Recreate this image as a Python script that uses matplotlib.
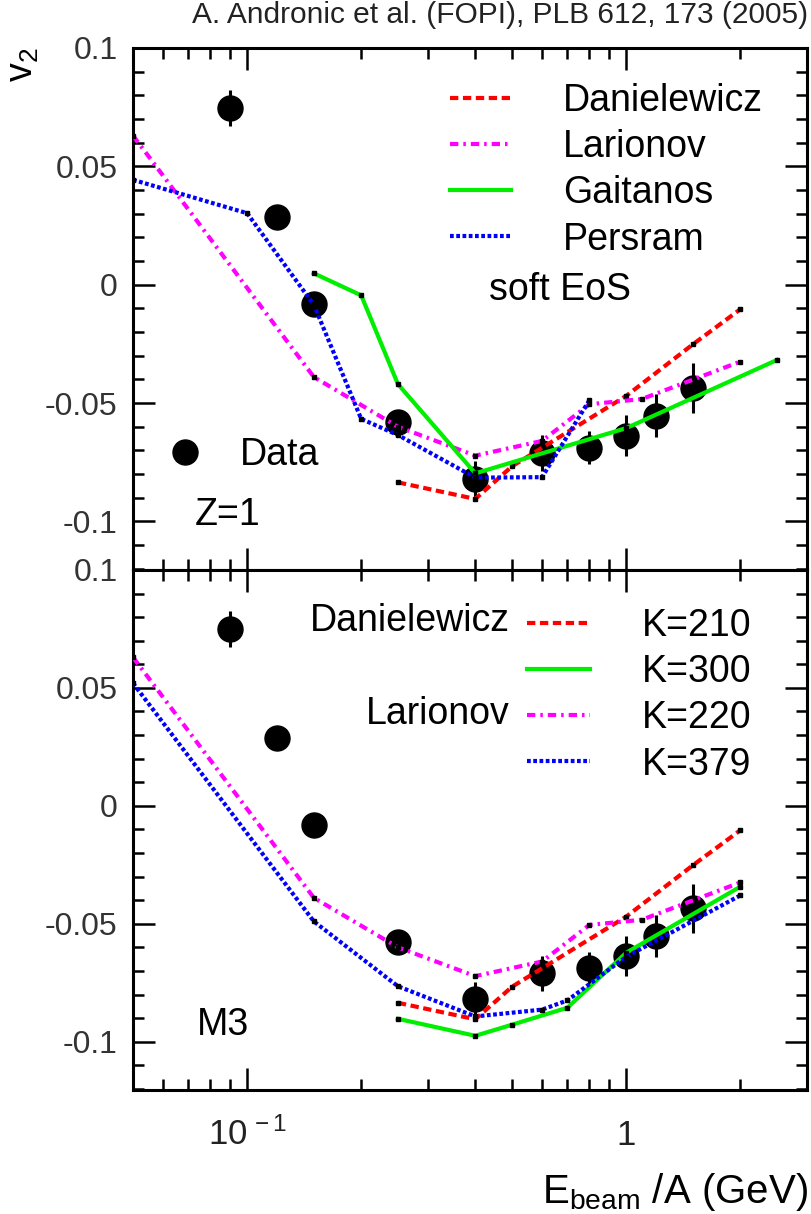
import matplotlib
matplotlib.use('Agg')
import matplotlib.pyplot as plt
from matplotlib.ticker import FixedLocator, MultipleLocator, NullFormatter, FuncFormatter
from matplotlib.lines import Line2D
from matplotlib.transforms import blended_transform_factory

plt.rcParams['font.family'] = ['Liberation Sans', 'DejaVu Sans']
plt.rcParams['mathtext.fontset'] = 'custom'
plt.rcParams['mathtext.rm'] = 'Liberation Sans'
plt.rcParams['mathtext.it'] = 'Liberation Sans:italic'
plt.rcParams['mathtext.bf'] = 'Liberation Sans:bold'
plt.rcParams['axes.unicode_minus'] = False

# FOPI elliptic flow v2 for Z=1, Au+Au
energy = [0.09, 0.12, 0.15, 0.25, 0.4, 0.6, 0.8, 1.0, 1.2, 1.5]
v2_data = [0.0748, 0.0286, -0.0080, -0.0578, -0.0821, -0.0710, -0.0688, -0.0637, -0.0553, -0.0435]
v2_err = [0.0076, 0.005, 0.005, 0.005, 0.0075, 0.0075, 0.007, 0.0085, 0.009, 0.0105]

# transport model curves
dan_e = [0.25, 0.4, 0.5, 1.0, 1.5, 2.0]
dan_v2 = [-0.0835, -0.0905, -0.0767, -0.047, -0.0252, -0.0104]

lar_e = [0.05, 0.15, 0.25, 0.4, 0.6, 0.8, 1.1, 2.0]
lar_v2 = [0.063, -0.039, -0.060, -0.0722, -0.066, -0.0505, -0.0483, -0.0325]

gai_e = [0.15, 0.2, 0.25, 0.4, 1.0, 2.5]
gai_v2 = [0.0048, -0.0045, -0.042, -0.0797, -0.0606, -0.0318]

per_e = [0.05, 0.1, 0.15, 0.2, 0.25, 0.4, 0.6, 0.8]
per_v2 = [0.0443, 0.0302, -0.0085, -0.0567, -0.0635, -0.0815, -0.0813, -0.0488]

k300_e = [0.25, 0.4, 0.5, 0.7, 1.0, 2.0]
k300_v2 = [-0.0903, -0.0975, -0.0928, -0.0856, -0.0623, -0.0343]

k379_e = [0.05, 0.15, 0.25, 0.4, 0.6, 0.7, 1.0, 2.0]
k379_v2 = [0.052, -0.049, -0.0765, -0.0893, -0.0864, -0.0825, -0.064, -0.038]

ytick_vals = [-0.1, -0.05, 0.0, 0.05, 0.1]
xtick_vals = [0.1, 1.0]
xtick_texts = [r'$\mathregular{10^{\,-1}}$', '1']

RED = dict(color='#ff0000', dashes=(2.0, 1.1))
MAG = dict(color='#ff00ff', dashes=(2.0, 1.2, 0.6, 1.2))
GRN = dict(color='#00ee00')
BLU = dict(color='#0000ff', dashes=(0.9, 0.6))
LW = 3.0
FS = 27


def fmt_y(v, pos):
    if abs(v) < 1e-9:
        return '0'
    return '%g' % round(v, 3)


def style_axes(ax):
    ax.set_xscale('log')
    ax.set_xlim(0.05, 3.0)
    ax.set_ylim(-0.1205, 0.1)
    ax.yaxis.set_major_locator(FixedLocator(ytick_vals))
    ax.yaxis.set_minor_locator(MultipleLocator(0.01))
    ax.yaxis.set_major_formatter(FuncFormatter(fmt_y))
    ax.xaxis.set_minor_formatter(NullFormatter())
    ax.tick_params(which='both', direction='in', top=True, right=True,
                   width=1.8, labelsize=23, labelcolor='#333333', pad=11,
                   labelbottom=False)
    ax.tick_params(which='major', length=16)
    ax.tick_params(which='minor', length=8)
    for sp in ax.spines.values():
        sp.set_linewidth(2.2)


def draw_data(ax):
    ax.errorbar(energy, v2_data, yerr=v2_err, fmt='o', color='k', ms=18,
                elinewidth=2.2, capsize=0, zorder=2)


def curve(ax, x, y, style, label):
    ax.plot(x, y, lw=LW, zorder=3, marker='s', ms=2.2, mfc='k', mec='k', **style)
    # legend sample without the vertex dots
    return Line2D([], [], lw=LW, label=label, **style)


fig = plt.figure(figsize=(8.12, 12.14), dpi=100)
ax_top = fig.add_axes([0.1638, 0.5305, 0.8300, 0.4300])
ax_bot = fig.add_axes([0.1638, 0.1021, 0.8300, 0.4284], sharex=ax_top)

# upper panel: soft EoS
style_axes(ax_top)
draw_data(ax_top)
h_top = [curve(ax_top, dan_e, dan_v2, RED, 'Danielewicz'),
         curve(ax_top, lar_e, lar_v2, MAG, 'Larionov'),
         curve(ax_top, gai_e, gai_v2, GRN, 'Gaitanos'),
         curve(ax_top, per_e, per_v2, BLU, 'Persram')]
leg = ax_top.legend(handles=h_top, loc='upper left', bbox_to_anchor=(0.470, 0.9325),
                    fontsize=FS, frameon=False, handlelength=1.63,
                    handletextpad=1.39, labelspacing=0.27, borderpad=0,
                    borderaxespad=0)
ax_top.add_artist(leg)
data_handle = Line2D([], [], marker='o', ls='none', color='k', ms=18)
ax_top.legend(handles=[data_handle], labels=['Data'], loc='upper left',
              bbox_to_anchor=(0.049, 0.2547), fontsize=FS, frameon=False,
              handlelength=1.0, handletextpad=0.96, borderpad=0, borderaxespad=0)
ax_top.text(0.528, 0.536, 'soft EoS', transform=ax_top.transAxes,
            fontsize=FS, ha='left', va='center')
ax_top.text(0.092, 0.105, 'Z=1', transform=ax_top.transAxes,
            fontsize=FS, ha='left', va='center')
ax_top.set_ylabel(r'$\mathregular{v_2}$', fontsize=FS, rotation=90,
                  ha='center', va='center')
ax_top.yaxis.set_label_coords(-0.163, 0.967)

# lower panel: M3 stiffness comparison
style_axes(ax_bot)
draw_data(ax_bot)
h_bot = [curve(ax_bot, dan_e, dan_v2, RED, 'K=210'),
         curve(ax_bot, k300_e, k300_v2, GRN, 'K=300'),
         curve(ax_bot, lar_e, lar_v2, MAG, 'K=220'),
         curve(ax_bot, k379_e, k379_v2, BLU, 'K=379')]
ax_bot.legend(handles=h_bot, loc='upper left', bbox_to_anchor=(0.5846, 0.9266),
              fontsize=FS, frameon=False, handlelength=1.68,
              handletextpad=1.39, labelspacing=0.27, borderpad=0,
              borderaxespad=0)
ax_bot.text(0.5593, 0.902, 'Danielewicz', transform=ax_bot.transAxes,
            fontsize=FS, ha='right', va='center')
ax_bot.text(0.5593, 0.723, 'Larionov', transform=ax_bot.transAxes,
            fontsize=FS, ha='right', va='center')
ax_bot.text(0.095, 0.125, 'M3', transform=ax_bot.transAxes,
            fontsize=FS, ha='left', va='center')

xlab_tr = blended_transform_factory(ax_bot.transData, ax_bot.transAxes)
for val, txt in zip(xtick_vals, xtick_texts):
    ax_bot.text(val, -0.1058, txt, transform=xlab_tr, ha='center',
                va='baseline', fontsize=25, color='#222222')
ax_bot.set_xlabel(r'$\mathregular{E_{beam}}$ /A (GeV)', fontsize=29,
                  ha='right', va='baseline')
ax_bot.xaxis.set_label_coords(1.0015, -0.217)

fig.text(0.995, 1 - 15 / 1214, 'A. Andronic et al. (FOPI), PLB 612, 173 (2005)',
         ha='right', va='center', fontsize=21.5, color='#222222')

fig.savefig('out.png', dpi=100)
